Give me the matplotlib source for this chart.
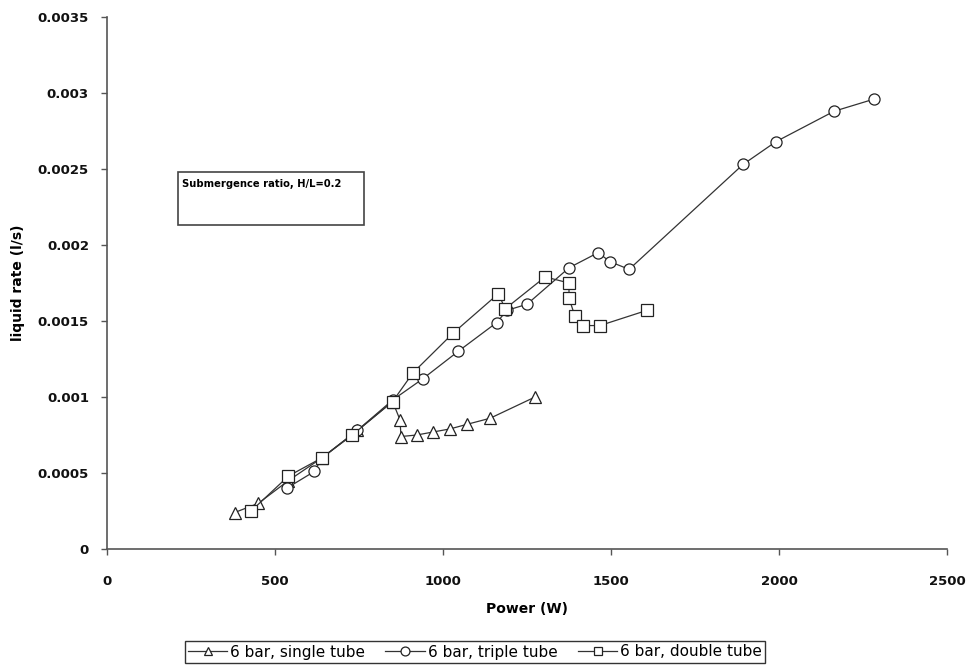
import matplotlib
matplotlib.use("Agg")
import matplotlib.pyplot as plt
from matplotlib.patches import Rectangle

# Data
single_power = [380, 450, 540, 640, 745, 850, 872, 875, 922, 971, 1021, 1071, 1140, 1274]
single_rate = [0.00024, 0.00030, 0.00045, 0.00060, 0.00078, 0.00097, 0.00085, 0.00074,
               0.00075, 0.00077, 0.00079, 0.00082, 0.00086, 0.00100]

triple_power = [535, 617, 640, 745, 850, 940, 1045, 1160, 1190, 1250, 1375, 1462, 1497,
                1554, 1893, 1991, 2164, 2283]
triple_rate = [0.00040, 0.00051, 0.00060, 0.00078, 0.00098, 0.00112, 0.00130, 0.00149,
               0.00157, 0.00161, 0.00185, 0.00195, 0.00189, 0.00184, 0.00253, 0.00268,
               0.00288, 0.00296]

double_power = [429, 540, 640, 730, 850, 911, 1030, 1165, 1185, 1304, 1375, 1375, 1393,
                1417, 1467, 1607]
double_rate = [0.00025, 0.00048, 0.00060, 0.00075, 0.00097, 0.00116, 0.00142, 0.00168,
               0.00158, 0.00179, 0.00175, 0.00165, 0.00153, 0.00147, 0.00147, 0.00157]

x_ticks = [0, 500, 1000, 1500, 2000, 2500]
y_ticks = [0, 0.0005, 0.001, 0.0015, 0.002, 0.0025, 0.003, 0.0035]
y_tick_labels = ["0", "0.0005", "0.001", "0.0015", "0.002", "0.0025", "0.003", "0.0035"]

plt.rcParams['font.family'] = ['DejaVu Sans']

fig = plt.figure(figsize=(9.73, 6.69), dpi=100)
ax = fig.add_axes([107/973, 1-549/669, (947-107)/973, (549-17)/669])

mk = dict(markerfacecolor='white', markeredgecolor='#222222', markeredgewidth=0.9,
          color='#333333', linewidth=0.9, markersize=8)
ax.plot(single_power, single_rate, marker='^', label='6 bar, single tube', **mk)
ax.plot(triple_power, triple_rate, marker='o', label='6 bar, triple tube', **mk)
ax.plot(double_power, double_rate, marker='s', label='6 bar, double tube', **mk)

ax.set_xlim(0, 2500)
ax.set_ylim(0, 0.0035)
ax.set_xticks(x_ticks)
ax.set_xticklabels([str(t) for t in x_ticks])
ax.set_yticks(y_ticks)
ax.set_yticklabels(y_tick_labels)
for s in ['top', 'right']:
    ax.spines[s].set_visible(False)
for s in ['left', 'bottom']:
    ax.spines[s].set_color('#555555')
    ax.spines[s].set_linewidth(1.2)
ax.tick_params(axis='both', direction='out', length=4, width=1, color='#555555',
               labelsize=9.5, labelcolor='#111111')
ax.tick_params(axis='x', pad=15)
ax.tick_params(axis='y', pad=9)
for lab in ax.get_xticklabels() + ax.get_yticklabels():
    lab.set_fontweight('bold')

ax.set_xlabel('Power (W)', fontsize=10, fontweight='bold', labelpad=10)
ax.set_ylabel('liquid rate (l/s)', fontsize=10, fontweight='bold', labelpad=9)

leg = fig.legend(loc='center', bbox_to_anchor=(475/973, 1-652/669), ncol=3,
                 frameon=True, fancybox=False, edgecolor='black', fontsize=11,
                 handlelength=2.6, handletextpad=0.2, columnspacing=1.3,
                 borderpad=0.2, borderaxespad=0, markerscale=0.8)
leg.get_frame().set_linewidth(1.0)

# annotation box
fig.patches.append(Rectangle((178/973, 1-225/669), (364-178)/973, (225-172)/669,
                             transform=fig.transFigure, facecolor='white',
                             edgecolor='#444444', linewidth=1.2))
fig.text(182/973, 1-184/669, 'Submergence ratio, H/L=0.2', fontsize=7.2,
         fontweight='bold', va='center', ha='left')

fig.savefig('out.png', dpi=100)
